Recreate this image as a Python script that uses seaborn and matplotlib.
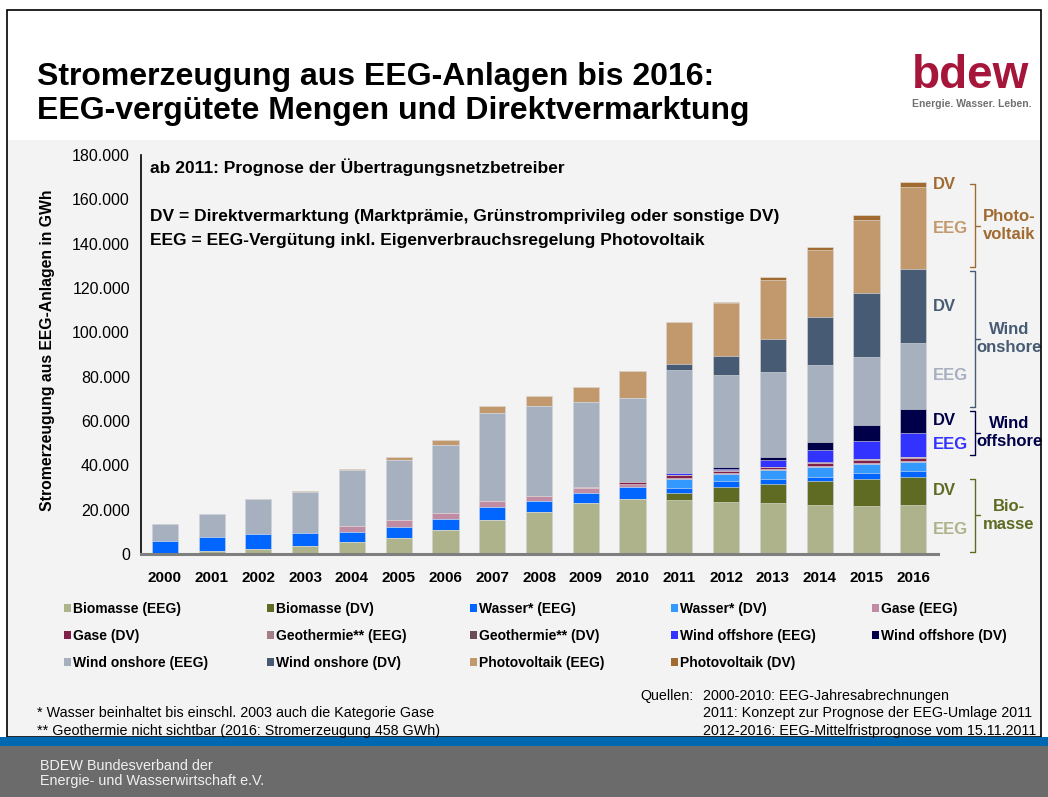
import numpy as np
import pandas as pd
import matplotlib
matplotlib.use('Agg')
import matplotlib.pyplot as plt
from matplotlib.patches import Rectangle, Patch
from matplotlib.ticker import FuncFormatter
import seaborn as sns

# --- data (GWh) ---
years = [str(y) for y in range(2000, 2017)]

bio_eeg    = [600, 1400, 2440, 3480, 5240, 7370, 10900, 15500, 18900, 22900, 25000, 24200, 23600, 22850, 22260, 21490, 22260]
bio_dv     = [0, 0, 0, 0, 0, 0, 0, 0, 0, 0, 0, 3340, 6630, 8580, 10520, 12370, 12510]
wasser_eeg = [5400, 6150, 6580, 5900, 4620, 4950, 4920, 5550, 4830, 4830, 5420, 2080, 2530, 2430, 2120, 2530, 2530]
wasser_dv  = [0, 0, 0, 0, 0, 0, 0, 0, 0, 0, 0, 4240, 3160, 3890, 4200, 4070, 4370]
gase_eeg   = [0, 0, 0, 0, 2590, 2880, 2790, 2900, 2390, 2260, 1350, 500, 500, 500, 500, 500, 500]
gase_dv    = [0, 0, 0, 0, 0, 0, 0, 0, 0, 0, 600, 1130, 1170, 850, 1490, 1620, 1310]
geo_eeg    = [0, 0, 0, 0, 0, 0, 0, 0, 18, 19, 28, 20, 50, 100, 150, 200, 250]
geo_dv     = [0, 0, 0, 0, 0, 0, 0, 0, 0, 0, 0, 10, 50, 100, 150, 180, 208]
off_eeg    = [0, 0, 0, 0, 0, 0, 0, 0, 0, 0, 170, 1210, 770, 3030, 5550, 8120, 10840]
off_dv     = [0, 0, 0, 0, 0, 0, 0, 0, 0, 0, 0, 0, 580, 1220, 3750, 6910, 10830]
on_eeg     = [7370, 10400, 15790, 18710, 25510, 27230, 30710, 39710, 40640, 38690, 37900, 46060, 41540, 38380, 34630, 30710, 29490]
on_dv      = [0, 0, 0, 0, 0, 0, 0, 0, 0, 0, 0, 2840, 8720, 14900, 21540, 28890, 33410]
pv_eeg     = [100, 120, 160, 310, 560, 1280, 2220, 3080, 4420, 6580, 12200, 18970, 24110, 26910, 30070, 33140, 36890]
pv_dv      = [0, 0, 0, 0, 0, 0, 0, 0, 0, 0, 0, 0, 250, 1080, 1360, 2080, 2260]

labels = ["Biomasse (EEG)", "Biomasse (DV)", "Wasser* (EEG)", "Wasser* (DV)",
          "Gase (EEG)", "Gase (DV)", "Geothermie** (EEG)", "Geothermie** (DV)",
          "Wind offshore (EEG)", "Wind offshore (DV)", "Wind onshore (EEG)",
          "Wind onshore (DV)", "Photovoltaik (EEG)", "Photovoltaik (DV)"]
colors = ["#AFB38C", "#5F6B22", "#0066FF", "#3399FF", "#C08CA4", "#80204A",
          "#A57F88", "#6B4C58", "#3333FF", "#000048", "#A6B0BE", "#475B74",
          "#C2996C", "#A06A30"]
values = [bio_eeg, bio_dv, wasser_eeg, wasser_dv, gase_eeg, gase_dv, geo_eeg, geo_dv,
          off_eeg, off_dv, on_eeg, on_dv, pv_eeg, pv_dv]

df = pd.DataFrame(dict(zip(labels, values)), index=years)
cum = df.cumsum(axis=1)

W, H = 1048, 797
def fx(x): return x / W
def fy(y): return 1 - y / H

sns.set_theme(style="white")
plt.rcParams['font.family'] = ['Liberation Sans', 'DejaVu Sans']
plt.rcParams.update({'text.color': 'black', 'axes.labelcolor': 'black',
                     'xtick.color': 'black', 'ytick.color': 'black'})

fig = plt.figure(figsize=(W / 100, H / 100), dpi=100)
fig.patch.set_facecolor('white')

# slide background pieces
fig.add_artist(Rectangle((fx(7), fy(737)), fx(1041) - fx(7), fy(140) - fy(737),
                         transform=fig.transFigure, facecolor='#F3F3F3', edgecolor='none', zorder=0))
fig.add_artist(Rectangle((fx(7), fy(737)), fx(1041) - fx(7), fy(10) - fy(737),
                         transform=fig.transFigure, facecolor='none', edgecolor='black',
                         linewidth=1.2, zorder=0.5))
fig.add_artist(Rectangle((0, fy(746)), 1, fy(737) - fy(746),
                         transform=fig.transFigure, facecolor='#0068B0', edgecolor='none', zorder=1))
fig.add_artist(Rectangle((0, 0), 1, fy(746),
                         transform=fig.transFigure, facecolor='#6B6B6B', edgecolor='none', zorder=1))

ax = fig.add_axes([fx(141), fy(554), fx(938) - fx(141), fy(155) - fy(554)])
ax.set_facecolor('none')

# stacked bars: draw cumulative totals from the top layer downwards
for lab, col in reversed(list(zip(labels, colors))):
    sns.barplot(x=years, y=cum[lab].values, color=col, saturation=1, width=0.56,
                errorbar=None, ax=ax, zorder=2, edgecolor='#E6E6E6', linewidth=0.4)

ax.set_xlim(-0.51, 16.53)
ax.set_ylim(0, 180000)
ax.set_yticks(np.arange(0, 180001, 20000))
ax.yaxis.set_major_formatter(FuncFormatter(lambda v, p: f"{v:,.0f}".replace(",", ".")))
ax.tick_params(axis='y', direction='out', length=4, width=1, color='black', labelsize=11.5, pad=4)
ax.tick_params(axis='x', length=0, labelsize=11, pad=12)
for t in ax.get_xticklabels():
    t.set_fontweight('bold')
ax.set_xlabel('')
ax.set_ylabel('Stromerzeugung aus EEG-Anlagen in GWh', fontsize=11.3, fontweight='bold')
ax.yaxis.set_label_coords((55 - 141) / 797, 0.51)
for s in ['top', 'right']:
    ax.spines[s].set_visible(False)
ax.spines['left'].set_color('black')
ax.spines['left'].set_linewidth(1.2)
ax.spines['bottom'].set_color('#7F7F7F')
ax.spines['bottom'].set_linewidth(2.2)
ax.grid(False)

# labels right of the 2016 bar
tr = ax.get_yaxis_transform()
last = years[-1]
groups = [
    ("Biomasse (EEG)", "Biomasse (DV)", None, "Bio-\nmasse", "#5F6B22", "#AFB38C", "#5F6B22"),
    ("Wind offshore (EEG)", "Wind offshore (DV)", "Geothermie** (DV)", "Wind\noffshore", "#000048", "#3333FF", "#000048"),
    ("Wind onshore (EEG)", "Wind onshore (DV)", "Wind offshore (DV)", "Wind\nonshore", "#475B74", "#A6B0BE", "#475B74"),
    ("Photovoltaik (EEG)", "Photovoltaik (DV)", "Wind onshore (DV)", "Photo-\nvoltaik", "#A06A30", "#C2996C", "#A06A30"),
]
xl = (933 - 141) / 797
xb = (975 - 141) / 797
hook = 5 / 797
for eeg, dv, below, name, gcol, ecol, dcol in groups:
    lo = cum.loc[last, below] if below else 0
    mid_e = cum.loc[last, eeg]
    hi = cum.loc[last, dv]
    ax.text(xl, (lo + mid_e) / 2, "EEG", transform=tr, color=ecol, fontsize=12,
            fontweight='bold', ha='left', va='center', clip_on=False)
    ax.text(xl, (mid_e + hi) / 2, "DV", transform=tr, color=dcol, fontsize=12,
            fontweight='bold', ha='left', va='center', clip_on=False)
    b0, b1 = lo + 900, hi - 900
    bm = (b0 + b1) / 2
    ax.plot([xb - hook, xb, xb, xb - hook], [b1, b1, b0, b0], color=gcol, lw=1,
            transform=tr, clip_on=False)
    ax.plot([xb, xb + hook], [bm, bm], color=gcol, lw=1, transform=tr, clip_on=False)
    ax.text((1009 - 141) / 797, bm, name, transform=tr, color=gcol, fontsize=12,
            fontweight='bold', ha='center', va='center', linespacing=1.25, clip_on=False)

# texts inside chart
fig.text(fx(150), fy(167), "ab 2011: Prognose der Übertragungsnetzbetreiber",
         fontsize=12.5, fontweight='bold', va='center')
fig.text(fx(150), fy(216), "DV = Direktvermarktung (Marktprämie, Grünstromprivileg oder sonstige DV)",
         fontsize=12.5, fontweight='bold', va='center')
fig.text(fx(150), fy(240), "EEG = EEG-Vergütung inkl. Eigenverbrauchsregelung Photovoltaik",
         fontsize=12.5, fontweight='bold', va='center')

# title and logo
fig.text(fx(37), fy(85), "Stromerzeugung aus EEG-Anlagen bis 2016:", fontsize=23,
         fontweight='bold', va='baseline')
fig.text(fx(37), fy(119), "EEG-vergütete Mengen und Direktvermarktung", fontsize=23,
         fontweight='bold', va='baseline')
fig.text(fx(971), fy(88), "bdew", fontsize=33, fontweight='bold', color='#A6163B',
         ha='center', va='baseline')
fig.text(fx(972), fy(104), "Energie. Wasser. Leben.", fontsize=7.5, fontweight='bold',
         color='#707070', ha='center', va='center')

# legend, row-wise with five columns
handles = [Patch(facecolor=c, edgecolor='none') for c in colors]
col_x = [64, 267, 470, 671, 872]
for c in range(5):
    fig.legend(handles[c::5], labels[c::5], loc='upper left',
               bbox_to_anchor=(fx(col_x[c]), fy(602)), frameon=False, ncol=1,
               prop={'size': 10, 'weight': 'bold'}, handlelength=0.5, handleheight=0.5,
               handletextpad=0.15, labelspacing=0.92, borderpad=0, borderaxespad=0)

# footnotes and sources
fs = 10.3
fig.text(fx(37), fy(713), "* Wasser beinhaltet bis einschl. 2003 auch die Kategorie Gase",
         fontsize=fs, va='center')
fig.text(fx(37), fy(731), "** Geothermie nicht sichtbar (2016: Stromerzeugung 458 GWh)",
         fontsize=fs, va='center')
fig.text(fx(640), fy(696), "Quellen:", fontsize=fs, va='center')
fig.text(fx(703), fy(696), "2000-2010: EEG-Jahresabrechnungen", fontsize=fs, va='center')
fig.text(fx(703), fy(713), "2011: Konzept zur Prognose der EEG-Umlage 2011", fontsize=fs, va='center')
fig.text(fx(703), fy(731), "2012-2016: EEG-Mittelfristprognose vom 15.11.2011", fontsize=fs, va='center')

fig.text(fx(40), fy(766), "BDEW Bundesverband der", fontsize=10.4, color='#F0F0F0', va='center')
fig.text(fx(40), fy(781), "Energie- und Wasserwirtschaft e.V.", fontsize=10.4, color='#F0F0F0', va='center')

fig.savefig("out.png", dpi=100)
plt.close(fig)
